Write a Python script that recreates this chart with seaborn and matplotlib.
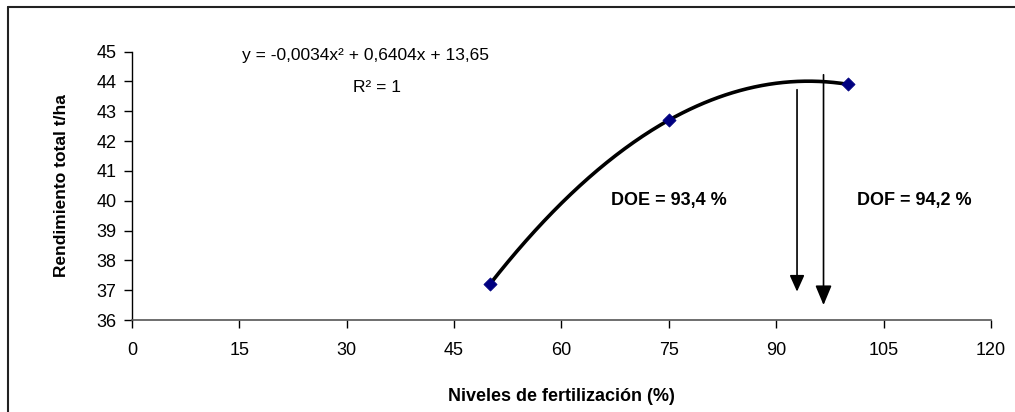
import numpy as np
import pandas as pd
import matplotlib
matplotlib.use("Agg")
import matplotlib.pyplot as plt
from matplotlib.lines import Line2D
import seaborn as sns

# data
niveles = [50, 75, 100]
rendimiento = [37.2, 42.7, 43.9]

x_ticks = [0, 15, 30, 45, 60, 75, 90, 105, 120]
y_ticks = [36, 37, 38, 39, 40, 41, 42, 43, 44, 45]

ecuacion = "y = -0,0034x² + 0,6404x + 13,65"
r2_text = "R² = 1"
doe_text = "DOE = 93,4 %"
dof_text = "DOF = 94,2 %"
doe_x = 92.9
dof_x = 96.6

sns.set_style("white")
plt.rcParams['font.family'] = ['Liberation Sans', 'DejaVu Sans']
plt.rcParams['text.color'] = 'black'
plt.rcParams['axes.labelcolor'] = 'black'
plt.rcParams['xtick.color'] = 'black'
plt.rcParams['ytick.color'] = 'black'

df = pd.DataFrame({"nivel": niveles, "rend": rendimiento})

# quadratic trendline through the points (R^2 = 1)
coef = np.polyfit(df["nivel"], df["rend"], 2)
xs = np.linspace(min(niveles), max(niveles), 200)
trend = pd.DataFrame({"nivel": xs, "rend": np.polyval(coef, xs)})

fig = plt.figure(figsize=(10.15, 4.12), dpi=100)
ax = fig.add_axes([0.130, 0.2233, 0.8464, 0.6517])

sns.lineplot(data=trend, x="nivel", y="rend", color="black", linewidth=2.6, ax=ax)
sns.scatterplot(data=df, x="nivel", y="rend", marker="D", s=45, color="#000080",
                edgecolor="#000080", zorder=3, ax=ax)

ax.set_xlim(0, 120)
ax.set_ylim(36, 45)
ax.set_xticks(x_ticks)
ax.set_yticks(y_ticks)
ax.tick_params(axis="both", labelsize=13, direction="out", length=6, width=1,
               left=True, bottom=True)
ax.tick_params(axis="x", pad=10)
ax.tick_params(axis="y", pad=5)
for s in ["top", "right"]:
    ax.spines[s].set_visible(False)
ax.spines["left"].set_color("black")
ax.spines["bottom"].set_color("#555555")
ax.spines["left"].set_linewidth(1)
ax.spines["bottom"].set_linewidth(1.2)

ax.set_xlabel("Niveles de fertilización (%)", fontsize=13, fontweight="bold", labelpad=21)
ax.set_ylabel("Rendimiento total t/ha", fontsize=12.5, fontweight="bold", labelpad=20)

# equation
ax.text(32.6, 44.87, ecuacion, fontsize=12.5, ha="center", va="center")
ax.text(34.2, 43.8, r2_text, fontsize=12.5, ha="center", va="center")

# DOE / DOF
ax.text(75.0, 40.0, doe_text, fontsize=13, fontweight="bold", ha="center", va="center")
ax.text(101.3, 40.0, dof_text, fontsize=13, fontweight="bold", ha="left", va="center")

ax.annotate("", xy=(doe_x, 36.95), xytext=(doe_x, 43.72),
            arrowprops=dict(arrowstyle="-|>,head_length=1.0,head_width=0.45",
                            color="black", lw=1.2, shrinkA=0, shrinkB=0))
ax.annotate("", xy=(dof_x, 36.5), xytext=(dof_x, 44.22),
            arrowprops=dict(arrowstyle="-|>,head_length=1.2,head_width=0.5",
                            color="black", lw=1.2, shrinkA=0, shrinkB=0))

# chart frame (top and left edges only visible)
fig.add_artist(Line2D([8 / 1015, 1], [1 - 7 / 412, 1 - 7 / 412], color="#222222", lw=1.5))
fig.add_artist(Line2D([8 / 1015, 8 / 1015], [0, 1 - 7 / 412], color="#222222", lw=1.5))

fig.savefig("out.png", dpi=100)
